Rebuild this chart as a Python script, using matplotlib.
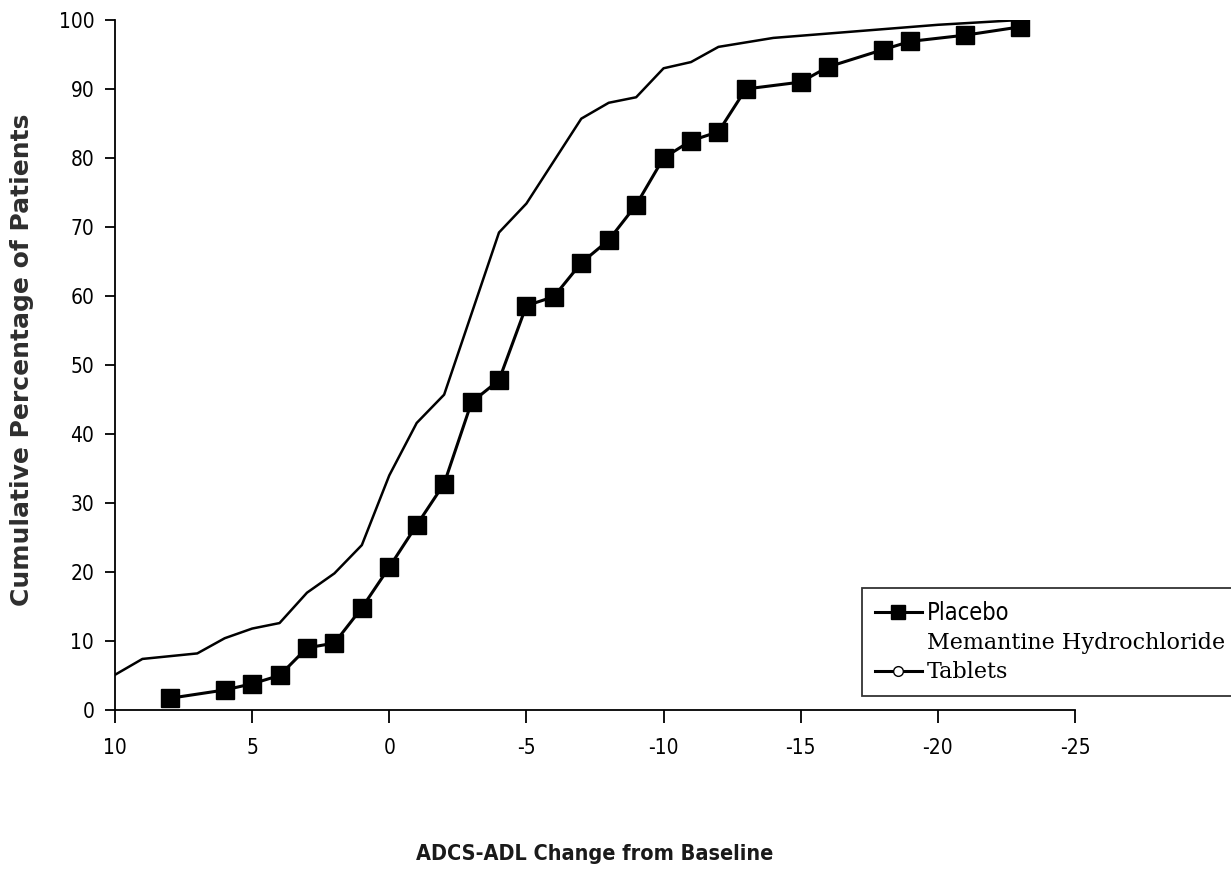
import numpy as np
import matplotlib
matplotlib.use("Agg")
import matplotlib.pyplot as plt
from matplotlib.lines import Line2D

plt.rcParams['axes.unicode_minus'] = False

# ADCS-ADL change from baseline (x) and cumulative % of patients (y)
placebo_x = [8, 6, 5, 4, 3, 2, 1, 0, -1, -2, -3, -4, -5, -6, -7, -8, -9, -10,
             -11, -12, -13, -15, -16, -18, -19, -21, -23]
placebo_y = [1.7, 2.9, 3.8, 5.0, 9.0, 9.7, 14.8, 20.7, 26.8, 32.8, 44.6, 47.8,
             58.6, 59.9, 64.8, 68.1, 73.2, 80.0, 82.5, 83.8, 90.0, 91.0, 93.2,
             95.7, 96.9, 97.8, 99.0]

mem_x = [10, 9, 7, 6, 5, 4, 3, 2, 1, 0, -1, -2, -4, -5, -7, -8, -9, -10, -11,
         -12, -14, -20, -23]
mem_y = [5.1, 7.4, 8.2, 10.4, 11.8, 12.6, 17.0, 19.8, 23.9, 34.0, 41.6, 45.7,
         69.2, 73.4, 85.7, 88.0, 88.8, 93.0, 93.9, 96.1, 97.4, 99.3, 100.0]

xticks = [10, 5, 0, -5, -10, -15, -20, -25]
yticks = list(range(0, 101, 10))

narrow = ['DejaVu Sans']

fig = plt.figure(figsize=(12.31, 8.76), dpi=100)
ax = fig.add_axes([0.0934, 0.1895, 0.7799, 0.7877])

ax.plot(mem_x, mem_y, color='black', linewidth=1.8)
ax.plot(placebo_x, placebo_y, color='black', linewidth=2.2,
        marker='s', markersize=13, markerfacecolor='black')

ax.set_xlim(10, -25)
ax.set_ylim(0, 100)
ax.set_xticks(xticks)
ax.set_xticklabels([str(t) for t in xticks], family=narrow, stretch='condensed', fontsize=15)
ax.set_yticks(yticks)
ax.set_yticklabels([str(t) for t in yticks], family=narrow, stretch='condensed', fontsize=15)
ax.tick_params(axis='x', direction='out', length=9, width=1.3, pad=11)
ax.tick_params(axis='y', direction='out', length=7, width=1.3, pad=8)

for s in ['top', 'right']:
    ax.spines[s].set_visible(False)
for s in ['left', 'bottom']:
    ax.spines[s].set_linewidth(1.3)

ax.set_xlabel('ADCS-ADL Change from Baseline', family=narrow, stretch='condensed',
              fontsize=15.5, fontweight='bold', color='#1a1a1a')
ax.xaxis.set_label_coords(0.5, -0.194)
ax.set_ylabel('Cumulative Percentage of Patients', family=['DejaVu Sans'],
              fontsize=18, fontweight='bold', color='#2e2e2e')
ax.yaxis.set_label_coords(-0.084, 0.507)

handles = [
    Line2D([], [], color='black', linewidth=2.2, marker='s', markersize=10),
    Line2D([], [], linestyle='none'),
    Line2D([], [], color='black', linewidth=2.2, marker='o', markersize=7,
           markerfacecolor='white'),
]
leg = fig.legend(handles, ['Placebo', 'Memantine Hydrochloride', 'Tablets'],
                 loc='upper left', bbox_to_anchor=(862 / 1231, 1 - 588 / 876),
                 borderaxespad=0, frameon=True, fancybox=False, edgecolor='black',
                 handlelength=2.3, handletextpad=0.2, borderpad=0.6,
                 labelspacing=0.35, fontsize=15)
leg.get_frame().set_linewidth(1.3)
texts = leg.get_texts()
texts[0].set_family(narrow)
texts[0].set_stretch('condensed')
texts[0].set_fontsize(17)
for t in texts[1:]:
    t.set_family(['DejaVu Serif'])
    t.set_fontsize(16)

fig.savefig('out.png', dpi=100)
